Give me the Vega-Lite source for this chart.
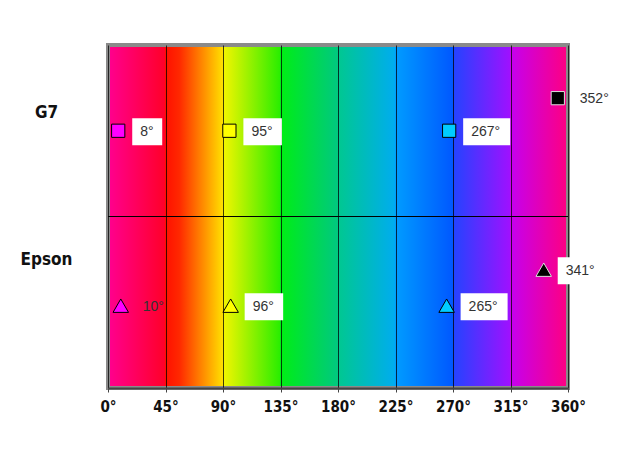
{
  "$schema": "https://vega.github.io/schema/vega-lite/v6.json",
  "width": 460,
  "height": 343,
  "autosize": "none",
  "padding": {"left": 108, "top": 45, "right": 49, "bottom": 66},
  "background": "white",
  "config": {
    "view": {
      "stroke": "#8a8a8a",
      "strokeWidth": 4,
      "fill": {
        "gradient": "linear", "x1": 0, "y1": 0, "x2": 1, "y2": 0,
        "stops": [
          {"offset": 0, "color": "#ff0090"},
          {"offset": 0.1249, "color": "#ff0028"},
          {"offset": 0.125, "color": "#ff1000"},
          {"offset": 0.155, "color": "#ff2800"},
          {"offset": 0.2499, "color": "#ffe000"},
          {"offset": 0.25, "color": "#f5f500"},
          {"offset": 0.3749, "color": "#28ee00"},
          {"offset": 0.375, "color": "#00ee14"},
          {"offset": 0.4999, "color": "#00c880"},
          {"offset": 0.5, "color": "#00c890"},
          {"offset": 0.6249, "color": "#00acf0"},
          {"offset": 0.625, "color": "#009cff"},
          {"offset": 0.7499, "color": "#0058ff"},
          {"offset": 0.75, "color": "#2244ff"},
          {"offset": 0.8749, "color": "#a010ff"},
          {"offset": 0.875, "color": "#c400f0"},
          {"offset": 1, "color": "#ff0080"}
        ]
      }
    }
  },
  "data": {
    "values": [
      {"printer": "G7", "ink": "Magenta", "hue": 8, "y": 1.5},
      {"printer": "G7", "ink": "Yellow", "hue": 95, "y": 1.5},
      {"printer": "G7", "ink": "Cyan", "hue": 267, "y": 1.5},
      {"printer": "G7", "ink": "Black", "hue": 352, "y": 1.69},
      {"printer": "Epson", "ink": "Magenta", "hue": 10, "y": 0.48},
      {"printer": "Epson", "ink": "Yellow", "hue": 96, "y": 0.48},
      {"printer": "Epson", "ink": "Cyan", "hue": 265, "y": 0.48},
      {"printer": "Epson", "ink": "Black", "hue": 341, "y": 0.69}
    ]
  },
  "transform": [{"calculate": "datum.hue + '°'", "as": "label"}],
  "encoding": {
    "x": {
      "field": "hue", "type": "quantitative",
      "scale": {"domain": [0, 360], "nice": false, "zero": false},
      "axis": {
        "values": [0, 45, 90, 135, 180, 225, 270, 315, 360],
        "labelExpr": "datum.value + '°'",
        "title": null,
        "grid": true, "gridColor": "#000000", "gridOpacity": 0.75, "gridWidth": 1,
        "domainColor": "#444444", "domainWidth": 2,
        "tickColor": "#444444", "tickSize": 4,
        "labelFont": "DejaVu Sans Condensed, sans-serif",
        "labelFontWeight": "bold", "labelFontSize": 15, "labelColor": "#111111",
        "labelPadding": 7, "labelFlush": false
      }
    },
    "y": {
      "field": "y", "type": "quantitative",
      "scale": {"domain": [0, 2], "nice": false, "zero": false},
      "axis": {
        "values": [0.752, 1.609],
        "labelExpr": "datum.value > 1 ? 'G7' : 'Epson'",
        "title": null, "grid": false, "domain": false, "ticks": false,
        "labelAlign": "center", "labelBaseline": "middle", "labelPadding": 62,
        "labelFont": "DejaVu Sans Condensed, sans-serif",
        "labelFontWeight": "bold", "labelFontSize": 17, "labelColor": "#111111"
      }
    }
  },
  "layer": [
    {
      "mark": {"type": "rule", "color": "#000000", "strokeWidth": 1},
      "encoding": {"x": {"value": 0}, "x2": {"value": 460}, "y": {"datum": 1}}
    },
    {
      "transform": [{"filter": "datum.hue != 10"}],
      "mark": {
        "type": "rect", "color": "#ffffff", "height": 27,
        "width": {"expr": "8.5*length(datum.label)+13"},
        "xOffset": {"expr": "14 + (8.5*length(datum.label)+13)/2"},
        "yOffset": 1
      }
    },
    {
      "mark": {"type": "point", "filled": true, "strokeWidth": 1, "opacity": 1},
      "encoding": {
        "shape": {"field": "printer", "type": "nominal", "scale": {"domain": ["G7", "Epson"], "range": ["square", "triangle-up"]}, "legend": null},
        "size": {"field": "printer", "type": "nominal", "scale": {"domain": ["G7", "Epson"], "range": [175, 240]}, "legend": null},
        "color": {"field": "ink", "type": "nominal", "scale": {"domain": ["Cyan", "Magenta", "Yellow", "Black"], "range": ["#00ccff", "#ff00ff", "#ffff00", "#000000"]}, "legend": null},
        "stroke": {"condition": {"test": "datum.ink === 'Black'", "value": "#dddddd"}, "value": "#000000"}
      }
    },
    {
      "mark": {"type": "text", "align": "left", "baseline": "middle", "dx": 22, "dy": 1, "font": "Liberation Sans, Arial, sans-serif", "fontSize": 14, "color": "#333333"},
      "encoding": {"text": {"field": "label"}}
    }
  ]
}
